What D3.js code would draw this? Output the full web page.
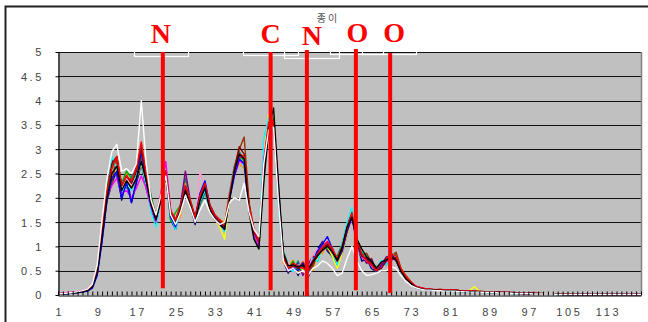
<!DOCTYPE html>
<html><head><meta charset="utf-8">
<script src="https://cdn.jsdelivr.net/npm/d3@7"></script>
<style>body{margin:0;background:#fff}svg{display:block}</style>
</head><body><svg id="c" width="648" height="322"></svg>
<script>
// ---------- data ----------
const categories = d3.range(1, 121);
const xTickLabels = [1, 9, 17, 25, 33, 41, 49, 57, 65, 73, 81, 89, 97, 105, 113];
const yTicks = [0, 0.5, 1, 1.5, 2, 2.5, 3, 3.5, 4, 4.5, 5];
const chartTitle = "종 이";
const markerLabels = ["N", "C", "N", "O", "O"];

const sBlack = [
0.01,0.02,0.03,0.04,0.05,0.07,0.09,0.16,0.45,1.20,
2.00,2.50,2.65,2.15,2.35,2.20,2.40,2.75,2.35,1.85,
1.55,1.95,2.45,1.65,1.45,1.75,2.15,1.85,1.50,1.95,
2.20,1.75,1.55,1.45,1.35,1.95,2.55,2.90,2.80,1.70,
1.15,0.95,2.30,3.40,3.85,2.30,0.85,0.60,0.62,0.58,
0.62,0.52,0.68,0.82,0.92,1.00,0.88,0.72,0.98,1.40,
1.60,1.15,0.95,0.78,0.70,0.55,0.68,0.72,0.78,0.72,
0.48,0.33,0.24,0.16,0.13,0.11,0.11,0.10,0.10,0.09,
0.09,0.09,0.08,0.07,0.07,0.07,0.06,0.06,0.05,0.05,
0.05,0.04,0.04,0.04,0.03,0.03,0.03,0.03,0.02,0.02,
0.02,0.02,0.02,0.01,0.01,0.01,0.01,0.01,0.01,0.01,
0.01,0.01,0.01,0.01,0.01,0.01,0.01,0.01,0.01,0.01];
const sRed = [
0.02,0.03,0.04,0.05,0.06,0.08,0.11,0.19,0.52,1.35,
2.15,2.60,2.85,2.25,2.45,2.35,2.60,3.15,2.50,1.95,
1.65,2.05,2.55,1.75,1.55,1.85,2.25,1.95,1.60,2.05,
2.30,1.85,1.65,1.55,1.45,2.05,2.55,2.90,2.85,1.85,
1.35,1.10,2.70,3.55,3.60,2.10,0.80,0.55,0.65,0.60,
0.55,0.48,0.70,0.85,1.00,1.10,0.95,0.75,1.00,1.40,
1.70,1.15,0.85,0.70,0.62,0.50,0.65,0.75,0.85,0.80,
0.55,0.38,0.27,0.18,0.15,0.13,0.12,0.11,0.12,0.10,
0.10,0.10,0.09,0.08,0.08,0.08,0.07,0.07,0.06,0.06,
0.05,0.05,0.05,0.04,0.04,0.03,0.03,0.03,0.03,0.02,
0.02,0.02,0.02,0.02,0.01,0.01,0.01,0.01,0.01,0.01,
0.01,0.01,0.01,0.01,0.01,0.01,0.01,0.01,0.01,0.01];
const sBlue = [
0.02,0.02,0.03,0.04,0.05,0.07,0.08,0.14,0.40,1.10,
1.95,2.40,2.55,2.00,2.30,1.90,2.35,2.95,2.35,1.85,
1.55,1.95,2.45,1.60,1.40,1.85,2.25,1.90,1.60,2.10,
2.35,1.85,1.65,1.50,1.35,1.95,2.45,2.80,2.70,1.75,
1.30,1.10,2.50,3.45,3.55,2.20,0.85,0.50,0.55,0.50,
0.65,0.45,0.70,0.90,1.05,1.20,0.95,0.70,0.90,1.30,
1.60,1.05,0.80,0.75,0.65,0.48,0.62,0.72,0.82,0.75,
0.52,0.36,0.24,0.15,0.12,0.11,0.10,0.10,0.11,0.09,
0.09,0.09,0.08,0.08,0.07,0.07,0.07,0.06,0.06,0.05,
0.05,0.05,0.04,0.04,0.04,0.03,0.03,0.03,0.02,0.02,
0.02,0.02,0.02,0.01,0.01,0.01,0.01,0.01,0.01,0.01,
0.01,0.01,0.01,0.01,0.01,0.01,0.01,0.01,0.01,0.01];
const sMagenta = [
0.03,0.04,0.05,0.06,0.07,0.09,0.12,0.20,0.55,1.40,
2.05,2.25,2.40,2.10,2.15,2.00,2.20,2.45,2.20,1.80,
1.50,2.10,2.75,1.75,1.45,1.75,2.15,1.85,1.50,2.05,
2.20,1.80,1.55,1.45,1.40,2.00,2.45,2.75,2.70,1.75,
1.25,1.00,2.80,3.55,3.50,1.95,0.75,0.50,0.55,0.60,
0.55,0.55,0.70,0.85,1.00,1.05,0.95,0.70,0.95,1.30,
1.60,1.10,0.78,0.72,0.60,0.50,0.60,0.68,0.78,0.72,
0.50,0.35,0.26,0.18,0.15,0.12,0.12,0.10,0.10,0.10,
0.09,0.10,0.09,0.08,0.07,0.08,0.07,0.06,0.06,0.05,
0.05,0.05,0.04,0.04,0.04,0.03,0.03,0.03,0.03,0.02,
0.02,0.02,0.02,0.02,0.01,0.01,0.01,0.01,0.01,0.01,
0.01,0.01,0.01,0.01,0.01,0.01,0.01,0.01,0.01,0.01];
const sCyan = [
0.02,0.03,0.04,0.05,0.06,0.08,0.10,0.17,0.48,1.25,
2.05,2.85,2.60,2.10,2.35,2.15,2.45,2.75,2.25,1.70,
1.40,1.95,2.45,1.60,1.35,1.75,2.15,1.85,1.55,1.95,
2.15,1.75,1.55,1.50,1.30,2.05,2.55,2.80,2.65,1.75,
1.25,1.15,3.20,3.65,3.50,1.80,0.75,0.55,0.48,0.62,
0.55,0.40,0.75,0.70,1.00,1.08,0.90,0.62,1.05,1.50,
1.80,1.15,0.92,0.78,0.60,0.52,0.72,0.62,0.88,0.78,
0.52,0.36,0.25,0.17,0.14,0.12,0.12,0.10,0.11,0.10,
0.08,0.08,0.07,0.07,0.06,0.06,0.06,0.05,0.05,0.05,
0.04,0.04,0.04,0.03,0.03,0.03,0.03,0.02,0.02,0.02,
0.02,0.02,0.01,0.01,0.01,0.01,0.01,0.01,0.01,0.01,
0.01,0.01,0.01,0.01,0.01,0.01,0.01,0.01,0.01,0.01];
const sBrown = [
0.02,0.03,0.04,0.05,0.06,0.08,0.10,0.18,0.50,1.35,
1.95,2.30,2.80,2.05,2.35,2.20,2.40,2.80,2.35,1.95,
1.60,2.00,2.45,1.70,1.55,1.80,2.15,1.90,1.60,2.00,
2.20,1.80,1.60,1.55,1.45,2.00,2.55,3.00,3.25,1.90,
1.35,1.10,2.55,3.45,3.55,2.00,0.82,0.48,0.66,0.55,
0.68,0.50,0.58,0.90,0.92,1.02,0.96,0.72,0.90,1.35,
1.60,1.10,0.82,0.86,0.66,0.52,0.58,0.72,0.80,0.88,
0.55,0.40,0.28,0.18,0.15,0.13,0.12,0.11,0.11,0.10,
0.10,0.11,0.09,0.09,0.08,0.08,0.08,0.07,0.07,0.06,
0.06,0.05,0.05,0.05,0.04,0.04,0.04,0.03,0.03,0.03,
0.02,0.02,0.02,0.02,0.02,0.01,0.01,0.01,0.01,0.01,
0.01,0.01,0.01,0.01,0.01,0.01,0.01,0.01,0.01,0.01];
const sYellow = [
0.02,0.03,0.04,0.05,0.06,0.08,0.10,0.17,0.45,1.20,
2.00,2.40,2.60,2.15,2.25,2.20,2.40,2.70,2.30,1.85,
1.50,1.95,2.40,1.65,1.45,1.80,2.20,1.90,1.50,1.95,
2.20,1.75,1.55,1.40,1.15,1.95,2.50,2.75,2.70,1.80,
1.30,1.10,2.90,3.70,3.50,2.00,0.70,0.58,0.62,0.60,
0.52,0.45,0.70,0.75,0.95,1.00,0.80,0.55,0.85,1.25,
1.60,1.05,0.78,0.72,0.62,0.48,0.62,0.68,0.85,0.80,
0.55,0.38,0.26,0.17,0.14,0.12,0.11,0.10,0.10,0.09,
0.09,0.10,0.08,0.08,0.09,0.17,0.08,0.06,0.06,0.05,
0.05,0.05,0.04,0.04,0.04,0.03,0.03,0.03,0.03,0.02,
0.02,0.02,0.02,0.02,0.01,0.01,0.01,0.01,0.01,0.01,
0.01,0.01,0.01,0.01,0.01,0.01,0.01,0.01,0.01,0.01];
const sGreen = [
0.02,0.03,0.04,0.05,0.06,0.08,0.10,0.18,0.50,1.30,
2.25,2.60,2.80,2.30,2.55,2.40,2.45,2.90,2.55,2.00,
1.65,2.05,2.55,1.50,1.70,1.85,2.25,1.95,1.60,2.00,
2.25,1.85,1.65,1.55,1.45,2.05,2.50,2.80,2.80,1.85,
1.20,0.95,2.45,3.45,3.65,2.10,0.88,0.55,0.70,0.50,
0.55,0.62,0.60,0.82,1.00,0.95,0.92,0.78,1.02,1.35,
1.65,1.12,0.85,0.80,0.70,0.55,0.68,0.72,0.80,0.75,
0.50,0.35,0.25,0.17,0.14,0.12,0.12,0.10,0.11,0.10,
0.09,0.10,0.08,0.08,0.07,0.08,0.07,0.06,0.06,0.05,
0.05,0.05,0.04,0.04,0.04,0.03,0.03,0.03,0.03,0.02,
0.02,0.02,0.02,0.02,0.01,0.01,0.01,0.01,0.01,0.01,
0.01,0.01,0.01,0.01,0.01,0.01,0.01,0.01,0.01,0.01];
const sNavy = [
0.01,0.02,0.03,0.04,0.05,0.06,0.08,0.15,0.42,1.15,
1.95,2.30,2.55,1.95,2.45,1.90,2.30,2.70,2.20,1.80,
1.45,2.00,2.50,1.55,1.35,1.80,2.25,1.85,1.45,2.00,
2.30,1.75,1.55,1.45,1.35,2.00,2.50,2.80,2.70,1.80,
1.30,1.10,2.60,3.50,3.55,2.00,0.70,0.45,0.68,0.40,
0.62,0.35,0.60,0.95,1.10,0.90,0.80,0.62,0.85,1.25,
1.65,1.08,0.70,0.74,0.54,0.48,0.62,0.78,0.82,0.70,
0.50,0.34,0.24,0.16,0.13,0.11,0.11,0.10,0.10,0.09,
0.08,0.08,0.07,0.07,0.06,0.06,0.06,0.05,0.05,0.05,
0.04,0.04,0.04,0.03,0.03,0.03,0.03,0.02,0.02,0.02,
0.02,0.02,0.01,0.01,0.01,0.01,0.01,0.01,0.01,0.01,
0.01,0.01,0.01,0.01,0.01,0.01,0.01,0.01,0.01,0.01];
const sPurple = [
0.02,0.03,0.04,0.05,0.06,0.08,0.11,0.19,0.52,1.30,
2.10,2.80,2.45,2.00,2.45,2.30,2.65,3.05,2.45,1.90,
1.55,2.05,2.55,1.70,1.50,1.85,2.55,1.95,1.55,2.05,
2.20,1.80,1.60,1.50,1.40,2.00,2.55,2.85,2.80,1.80,
1.30,1.05,2.65,3.55,3.55,2.00,0.78,0.50,0.55,0.65,
0.40,0.62,0.80,0.75,1.10,0.92,0.85,0.75,1.00,1.40,
1.65,1.10,0.80,0.65,0.75,0.50,0.65,0.70,0.72,0.75,
0.50,0.35,0.25,0.17,0.14,0.12,0.12,0.10,0.11,0.10,
0.10,0.11,0.09,0.09,0.08,0.08,0.08,0.07,0.07,0.06,
0.06,0.05,0.05,0.05,0.04,0.04,0.04,0.03,0.03,0.03,
0.02,0.02,0.02,0.02,0.02,0.01,0.01,0.01,0.01,0.01,
0.01,0.01,0.01,0.01,0.01,0.01,0.01,0.01,0.01,0.01];
const sPink = [
0.03,0.04,0.05,0.06,0.07,0.09,0.11,0.19,0.55,1.40,
2.20,2.60,2.70,2.20,2.40,2.25,2.45,2.75,2.35,1.85,
1.55,2.00,2.50,1.70,1.50,1.80,2.20,1.90,1.55,2.55,
2.20,1.80,1.60,1.50,1.45,2.05,2.60,2.90,2.80,1.75,
1.30,1.10,2.75,3.60,3.50,1.95,0.72,0.66,0.45,0.58,
0.70,0.45,0.85,0.95,0.90,1.15,0.88,0.65,0.92,1.25,
1.60,1.10,0.80,0.75,0.65,0.52,0.66,0.70,0.80,0.75,
0.50,0.36,0.26,0.18,0.15,0.13,0.12,0.11,0.11,0.10,
0.09,0.09,0.08,0.07,0.07,0.07,0.06,0.06,0.05,0.05,
0.05,0.04,0.04,0.04,0.03,0.03,0.03,0.03,0.02,0.02,
0.02,0.02,0.02,0.01,0.01,0.01,0.01,0.01,0.01,0.01,
0.01,0.01,0.01,0.01,0.01,0.01,0.01,0.01,0.01,0.01];
const sTeal = [
0.02,0.03,0.04,0.05,0.06,0.08,0.10,0.17,0.48,1.28,
2.20,2.75,2.45,2.35,2.20,2.45,2.55,2.70,2.50,2.05,
1.60,2.00,2.45,1.70,1.55,1.80,2.40,1.90,1.55,1.85,
2.10,1.80,1.60,1.50,1.40,2.10,2.65,2.95,2.75,1.80,
1.30,1.05,2.60,3.50,3.60,2.05,0.90,0.62,0.50,0.70,
0.48,0.58,0.78,0.70,1.05,1.00,0.78,0.80,1.05,1.45,
1.70,1.10,0.90,0.75,0.65,0.58,0.65,0.62,0.80,0.85,
0.50,0.35,0.25,0.17,0.14,0.12,0.12,0.10,0.11,0.10,
0.09,0.10,0.08,0.08,0.07,0.08,0.07,0.06,0.06,0.05,
0.05,0.05,0.04,0.04,0.04,0.03,0.03,0.03,0.03,0.02,
0.02,0.02,0.02,0.02,0.01,0.01,0.01,0.01,0.01,0.01,
0.01,0.01,0.01,0.01,0.01,0.01,0.01,0.01,0.01,0.01];
const sDarkRed = [
0.02,0.03,0.04,0.05,0.06,0.08,0.10,0.18,0.50,1.30,
2.15,2.70,2.85,2.25,2.45,2.30,2.55,3.00,2.45,1.90,
1.60,2.00,2.50,1.70,1.50,1.80,2.20,1.90,1.55,2.00,
2.25,1.80,1.60,1.50,1.40,2.00,2.60,3.05,2.90,1.85,
1.30,1.10,2.55,3.45,3.55,2.05,0.80,0.55,0.60,0.55,
0.58,0.48,0.65,0.80,0.95,1.05,0.90,0.70,0.95,1.35,
1.65,1.10,0.80,0.75,0.65,0.50,0.55,0.70,0.80,0.75,
0.50,0.35,0.25,0.17,0.14,0.12,0.12,0.10,0.11,0.10,
0.10,0.10,0.09,0.08,0.08,0.08,0.07,0.07,0.06,0.06,
0.05,0.05,0.05,0.04,0.04,0.03,0.03,0.03,0.03,0.02,
0.02,0.02,0.02,0.02,0.01,0.01,0.01,0.01,0.01,0.01,
0.01,0.01,0.01,0.01,0.01,0.01,0.01,0.01,0.01,0.01];
const sOrange = [
0.02,0.03,0.04,0.05,0.06,0.08,0.10,0.18,0.50,1.30,
2.05,2.40,2.70,2.05,2.50,2.15,2.35,2.85,2.30,1.75,
1.65,2.00,2.50,1.70,1.50,1.60,2.30,1.90,1.55,2.00,
2.25,1.80,1.60,1.55,1.50,2.05,2.50,2.70,2.60,1.80,
1.30,1.10,2.70,3.50,3.50,2.00,0.65,0.58,0.72,0.45,
0.70,0.55,0.50,0.88,0.85,1.10,0.98,0.66,0.90,1.30,
1.65,1.10,0.80,0.75,0.65,0.50,0.65,0.72,0.85,0.80,
0.55,0.38,0.26,0.17,0.14,0.12,0.12,0.10,0.11,0.10,
0.09,0.09,0.08,0.08,0.07,0.07,0.07,0.06,0.06,0.05,
0.05,0.05,0.04,0.04,0.04,0.03,0.03,0.03,0.02,0.02,
0.02,0.02,0.02,0.01,0.01,0.01,0.01,0.01,0.01,0.01,
0.01,0.01,0.01,0.01,0.01,0.01,0.01,0.01,0.01,0.01];
const sWhite = [
0.02,0.03,0.04,0.05,0.07,0.09,0.12,0.22,0.62,1.55,
2.40,2.95,3.10,2.55,2.60,2.50,2.70,4.00,2.70,1.95,
1.65,2.05,2.45,1.65,1.45,1.70,2.05,1.80,1.50,1.75,
1.95,1.70,1.55,1.45,1.50,1.90,2.00,1.95,2.30,1.70,
1.35,1.20,2.70,3.40,3.45,1.90,0.70,0.50,0.55,0.45,
0.50,0.40,0.55,0.60,0.70,0.65,0.55,0.40,0.45,0.75,
1.00,0.70,0.50,0.40,0.42,0.45,0.50,0.50,0.58,0.55,
0.40,0.28,0.20,0.15,0.12,0.10,0.10,0.09,0.09,0.08,
0.08,0.08,0.07,0.07,0.06,0.06,0.06,0.05,0.05,0.05,
0.04,0.04,0.04,0.03,0.03,0.03,0.03,0.02,0.02,0.02,
0.02,0.02,0.01,0.01,0.01,0.01,0.01,0.01,0.01,0.01,
0.01,0.01,0.01,0.01,0.01,0.01,0.01,0.01,0.01,0.01];

const seriesValues = [sNavy, sTeal, sOrange, sPurple, sPink, sGreen, sYellow, sBrown,
  sCyan, sMagenta, sBlue, sDarkRed, sRed, sBlack, sWhite];
const seriesColors = ["#000080", "#008080", "#FF9900", "#800080", "#FF99CC", "#00B000", "#FFFF00", "#993300",
  "#00FFFF", "#FF00FF", "#0000FF", "#800000", "#FF0000", "#000000", "#FFFFFF"];

// ---------- drawing ----------
const svg = d3.select("#c");
const L = 58, R = 641, T = 52, B = 295;
const x = d3.scaleLinear().domain([1, 120]).range([L, R]);
const y = d3.scaleLinear().domain([0, 5]).range([B, T]);

// outer frame
svg.append("rect").attr("x", 5.5).attr("y", 6.5).attr("width", 700).attr("height", 400)
  .attr("fill", "#fff").attr("stroke", "#222").attr("stroke-width", 2);

// plot area
svg.append("rect").attr("x", L).attr("y", T).attr("width", R - L).attr("height", B - T)
  .attr("fill", "#C0C0C0");

// gridlines
svg.append("g").selectAll("line").data(yTicks.filter(d => d > 0)).join("line")
  .attr("x1", L).attr("x2", R)
  .attr("y1", d => Math.round(y(d)) + 0.5).attr("y2", d => Math.round(y(d)) + 0.5)
  .attr("stroke", "#111").attr("stroke-width", 1);
// right border
svg.append("line").attr("x1", R + 0.5).attr("x2", R + 0.5).attr("y1", T).attr("y2", B)
  .attr("stroke", "#808080").attr("stroke-width", 1.5);

// series
const line = d3.line().x((d, i) => x(categories[i])).y(d => y(d));
svg.append("g").selectAll("path").data(seriesValues).join("path")
  .attr("d", d => line(d))
  .attr("fill", "none")
  .attr("stroke", (d, i) => seriesColors[i])
  .attr("stroke-width", 1.4)
  .attr("stroke-linejoin", "round");

// x axis
const xAxis = d3.axisBottom(x).tickValues(categories).tickSizeInner(-4).tickSizeOuter(0)
  .tickFormat(d => xTickLabels.includes(d) ? String(d) : "");
const gx = svg.append("g").attr("transform", `translate(0,${B + 0.5})`).call(xAxis);
gx.select(".domain").attr("stroke", "#000").attr("stroke-width", 1.2);
gx.selectAll(".tick line").attr("stroke", "#000");
gx.selectAll(".tick text")
  .attr("y", 20).attr("dy", 0)
  .attr("font-family", "'Liberation Sans', Arial, sans-serif").attr("font-size", 11)
  .attr("fill", "#444").style("letter-spacing", "2.6px")
  .attr("dx", "1.3px");

// y axis
const yAxis = d3.axisLeft(y).tickValues(yTicks).tickSizeInner(3).tickSizeOuter(0)
  .tickFormat(d => String(d));
const gy = svg.append("g").attr("transform", `translate(${L + 0.5},0)`).call(yAxis);
gy.select(".domain").attr("stroke", "#000").attr("stroke-width", 1.2);
gy.selectAll(".tick line").attr("stroke", "#000");
gy.selectAll(".tick text")
  .attr("x", -14.5).attr("dy", "0.36em")
  .attr("font-family", "'Liberation Sans', Arial, sans-serif").attr("font-size", 11)
  .attr("fill", "#444").style("letter-spacing", "2.6px");

// title
svg.append("text").attr("x", 327).attr("y", 22).attr("text-anchor", "middle")
  .attr("font-family", "'Noto Sans CJK KR', sans-serif").attr("font-size", 10)
  .attr("fill", "#555").text(chartTitle);

// annotation text boxes (white outlines)
const boxes = [
  {c0: 16.5, c1: 27.5, v: -0.05},
  {c0: 38.7, c1: 49.9, v: -0.03},
  {c0: 47.1, c1: 58.3, v: -0.09},
  {c0: 56.5, c1: 67.3, v: 0.0},
  {c0: 63.1, c1: 74.1, v: 0.0}
];
svg.append("g").selectAll("rect").data(boxes).join("rect")
  .attr("x", d => Math.round(x(d.c0)) + 0.5)
  .attr("y", 30.5)
  .attr("width", d => Math.round(x(d.c1) - x(d.c0)))
  .attr("height", d => Math.round(y(5 + d.v)) - 30 + 2)
  .attr("fill", "none").attr("stroke", "#fff").attr("stroke-width", 1.2);

// red marker lines and labels
const markers = [
  {c: 22.4, top: 5.0, bot: 0.14, lc: 22.0, ly: 43},
  {c: 44.4, top: 5.0, bot: 0.10, lc: 44.4, ly: 43},
  {c: 51.8, top: 5.04, bot: -0.02, lc: 52.8, ly: 45},
  {c: 61.8, top: 5.06, bot: 0.10, lc: 62.1, ly: 42},
  {c: 68.8, top: 4.98, bot: 0.04, lc: 69.6, ly: 42}
];
svg.append("g").selectAll("line").data(markers).join("line")
  .attr("x1", d => x(d.c)).attr("x2", d => x(d.c))
  .attr("y1", d => y(d.top)).attr("y2", d => y(d.bot))
  .attr("stroke", "#FF0000").attr("stroke-width", 4);
svg.append("g").selectAll("text").data(markers).join("text")
  .attr("x", d => x(d.lc)).attr("y", d => d.ly)
  .attr("text-anchor", "middle")
  .attr("font-family", "'Liberation Serif', 'Times New Roman', serif")
  .attr("font-weight", "bold").attr("font-size", 28)
  .attr("fill", "#FF0000")
  .text((d, i) => markerLabels[i]);
</script>
</body></html>
